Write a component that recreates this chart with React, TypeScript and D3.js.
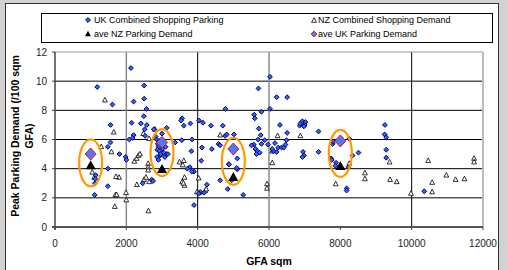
import React from 'react';
import * as d3 from 'd3';

// UK Combined Shopping Parking (GFA sqm, spaces / 100 sqm)
const ukX = [
  2130, 1185, 1611, 2500, 2204, 2500, 2565, 2491, 1556, 2148, 2407, 2574, 2769, 2204, 2176, 2083, 2528,
  1556, 1482, 1806, 1982, 2000, 1482, 1482, 1111, 1141, 1130, 1120, 2458, 2710, 2750, 2515, 3132,
  2820, 2850, 2880, 2900, 2870, 2930, 2950, 2980, 3020, 3050, 3080, 3100, 3130, 2860, 2900, 3000, 2960, 2920,
  4778, 3565, 3537, 3611, 3796, 4037, 4148, 4370, 4704, 3370, 3556, 3843, 4120, 4398, 3824, 4102, 3898,
  4259, 4074, 4028, 3898, 4583, 4630, 4768, 4815, 5019, 5111, 4870, 4630, 4843, 5111, 5278, 3167, 3778,
  5704, 6028, 6028, 5787, 5583, 5602, 5713, 5769, 5695, 5574, 5509, 5620, 5676, 5741, 5648, 5880, 5787,
  5972, 4880, 5094, 4954, 3711, 3833, 4178,
  6213, 6509, 6306, 6509, 6167, 6213, 6259, 6352, 6417, 6463, 6491, 6120, 6090, 6860, 6880, 6935, 7020,
  7000, 6980, 7389, 7389, 6954, 6981, 6935, 7787, 7800, 7741, 7760, 7880, 7861, 8250, 8231, 8343, 8509,
  8176, 8176, 9250, 9241, 9287, 9287, 9287, 10352,
];
const ukY = [
  10.9, 9.6, 8.4, 9.7, 8.6, 8.8, 8.1, 7.6, 7.0, 7.15, 7.1, 7.0, 6.7, 6.3, 6.1, 6.0, 6.25,
  5.8, 5.5, 5.0, 4.8, 4.6, 4.0, 2.8, 2.2, 3.55, 3.3, 3.0, 3.0, 3.25, 3.15, 6.7, 6.8,
  6.2, 6.0, 5.7, 5.5, 5.3, 5.2, 4.9, 5.6, 5.4, 5.1, 4.8, 5.5, 5.0, 4.8, 4.6, 6.4, 5.0, 5.9,
  8.1, 7.45, 7.3, 6.95, 7.1, 7.3, 7.15, 6.95, 6.95, 5.8, 5.95, 6.0, 5.45, 5.35, 5.2, 4.55, 3.8,
  2.9, 2.4, 2.3, 1.5, 5.7, 5.6, 6.25, 6.35, 6.35, 4.7, 4.3, 3.2, 2.6, 3.95, 2.2, 5.0, 4.1,
  9.5, 10.3, 8.1, 7.9, 7.7, 7.45, 6.75, 6.3, 6.0, 5.65, 5.6, 5.35, 5.2, 5.1, 5.0, 5.95, 5.7,
  5.65, 4.3, 4.05, 3.2, 4.0, 3.8, 2.35,
  8.9, 8.9, 7.0, 6.45, 5.75, 5.15, 5.45, 5.45, 5.45, 5.65, 5.95, 5.2, 5.35, 6.95, 7.1, 7.25, 7.2,
  7.0, 6.9, 6.55, 5.15, 5.15, 4.9, 4.8, 5.7, 5.85, 4.7, 4.6, 4.4, 4.2, 6.05, 4.1, 4.9, 5.1,
  2.65, 2.5, 7.0, 6.35, 6.15, 5.3, 4.75, 2.45,
];

// NZ Combined Shopping Demand
const nzX = [
  1398, 1648, 1583, 1296, 1796, 1695, 1676, 1991, 2000, 2620, 1046, 1100, 2224, 2290, 2336, 2380,
  2611, 2611, 2611, 2296, 2495, 2550, 2640, 2639, 2476, 2804, 1710, 1730, 3611, 3491, 3630, 3565,
  3630, 4028, 3981, 4213, 4630, 4047, 4240, 3581, 3600, 6093, 6093, 5944, 5944, 6241, 6880, 7871,
  8690, 8690, 8250, 9380, 9394, 9581, 9981, 10463, 10574, 10574, 10972, 11231, 11481, 11750, 11750,
];
const nzY = [
  8.7, 6.5, 5.15, 5.5, 3.4, 2.2, 1.4, 2.35, 1.85, 1.1, 3.75, 3.4, 4.5, 4.7, 4.9, 5.0,
  4.35, 4.1, 3.9, 2.9, 3.25, 3.4, 3.1, 6.05, 6.4, 6.7, 3.45, 2.2, 4.55, 4.45, 3.4, 3.1,
  2.85, 3.35, 2.4, 2.5, 6.3, 2.35, 2.6, 4.25, 3.0, 5.2, 4.4, 2.95, 2.65, 6.25, 6.25, 2.95,
  3.7, 3.3, 4.35, 4.45, 3.25, 3.1, 2.3, 4.55, 3.05, 2.4, 3.55, 3.25, 3.3, 4.7, 4.45,
];

// averages per size band
const aveX = [1000, 3000, 5000, 8000];
const aveUK = [5.0, 5.8, 5.35, 5.9];
const aveNZ = [4.2, 3.95, 3.4, 4.15];
const ringY = [4.4, 5.1, 4.5, 5.05];

const xTicks = [0, 2000, 4000, 6000, 8000, 10000, 12000];
const yTicks = [0, 2, 4, 6, 8, 10, 12];

const FONT = 'Arial, "Liberation Sans", sans-serif';

const diamond = (cx: number, cy: number, rx: number, ry: number) =>
  `M${cx},${cy - ry}L${cx + rx},${cy}L${cx},${cy + ry}L${cx - rx},${cy}Z`;
const triangle = (cx: number, cy: number, hw: number, h: number) =>
  `M${cx},${cy - h * 0.6}L${cx + hw},${cy + h * 0.4}L${cx - hw},${cy + h * 0.4}Z`;

const App = () => {
  const width = 507;
  const height = 270;
  const left = 55, right = 483, top = 52, bottom = 227;

  const x = d3.scaleLinear().domain([0, 12000]).range([left, right]);
  const y = d3.scaleLinear().domain([0, 12]).range([bottom, top]);

  const softLine = (t: number) => t === 2000 || t === 6000;

  return (
    <svg width={width} height={height} style={{ position: 'absolute', left: 0, top: 0 }} fontFamily={FONT}>
      <rect x={0} y={0} width={width} height={height} fill="#d2d2d2" />
      <rect x={5.5} y={3.5} width={493} height={280} fill="#fff" stroke="#333" strokeWidth={1} />

      {/* legend */}
      <rect x={41.5} y={13.5} width={451} height={29} fill="#fff" stroke="#000" strokeWidth={1} />
      <path d={diamond(88, 20, 2.4, 2.4)} fill="#3366ff" stroke="#000066" strokeWidth={1} />
      <text x={94} y={23} fontSize={9}>UK Combined Shopping Parking</text>
      <path d={triangle(314, 20.5, 2.4, 4.6)} fill="#fff" stroke="#000" strokeWidth={0.8} />
      <text x={318} y={23} fontSize={9}>NZ Combined Shopping Demand</text>
      <path d={triangle(88, 34, 3, 5.5)} fill="#000" />
      <text x={94} y={37} fontSize={9}>ave NZ Parking Demand</text>
      <path d={diamond(314, 34, 3, 3)} fill="#4a7bff" stroke="#ff0000" strokeWidth={0.8} />
      <text x={318} y={37} fontSize={9}>ave UK Parking Demand</text>

      {/* grid */}
      {yTicks.filter(t => t > 0 && t < 12).map(t => (
        <line key={'h' + t} x1={left} x2={right} y1={y(t)} y2={y(t)} stroke="#000" strokeWidth={1} />
      ))}
      {xTicks.filter(t => t > 0 && t < 12000 && t !== 8000).map(t => (
        <line key={'v' + t} x1={x(t)} x2={x(t)} y1={top} y2={bottom}
          stroke={softLine(t) ? '#8a8a8a' : '#000'} strokeWidth={softLine(t) ? 1.5 : 1} />
      ))}
      <line x1={left} x2={right} y1={top} y2={top} stroke="#9a9a9a" strokeWidth={1.2} />
      <line x1={right} x2={right} y1={top} y2={bottom} stroke="#bdbdbd" strokeWidth={2} />
      <line x1={left} x2={left} y1={top} y2={bottom + 3} stroke="#444" strokeWidth={1.5} />
      <line x1={left - 3} x2={right} y1={bottom} y2={bottom} stroke="#555" strokeWidth={2} />

      {/* ticks */}
      {xTicks.map(t => (
        <g key={'xt' + t}>
          <line x1={x(t)} x2={x(t)} y1={bottom} y2={bottom + 3} stroke="#444" />
          <text x={x(t)} y={bottom + 20} fontSize={10} textAnchor="middle" fill="#222">{t}</text>
        </g>
      ))}
      {yTicks.map(t => (
        <g key={'yt' + t}>
          <line x1={left - 3} x2={left} y1={y(t)} y2={y(t)} stroke="#444" />
          <text x={left - 8} y={y(t) + 3.5} fontSize={10} textAnchor="end" fill="#222">{t}</text>
        </g>
      ))}

      {/* axis titles */}
      <text x={269} y={265} fontSize={10.5} fontWeight="bold" textAnchor="middle">GFA sqm</text>
      <g transform="translate(19,136) rotate(-90)">
        <text x={0} y={0} fontSize={10.5} fontWeight="bold" textAnchor="middle">Peak Parking Demand (/100 sqm</text>
        <text x={0} y={14} fontSize={10.5} fontWeight="bold" textAnchor="middle">GFA)</text>
      </g>

      {/* NZ points */}
      {nzX.map((v, i) => (
        <path key={'nz' + i} d={triangle(x(v), y(nzY[i]), 2.4, 4.6)} fill="#fff" stroke="#000" strokeWidth={0.8} />
      ))}
      {/* UK points */}
      {ukX.map((v, i) => (
        <path key={'uk' + i} d={diamond(x(v), y(ukY[i]), 2.4, 2.4)} fill="#3366ff" stroke="#000066" strokeWidth={1} />
      ))}

      {/* highlight rings */}
      {aveX.map((v, i) => (
        <ellipse key={'r' + i} cx={x(v)} cy={y(ringY[i])} rx={11.5} ry={23.5} fill="none" stroke="#ff9900" strokeWidth={2.2} />
      ))}
      {aveX.map((v, i) => (
        <path key={'an' + i} d={triangle(x(v), y(aveNZ[i]), 5, 9)} fill="#000" />
      ))}
      {aveX.map((v, i) => (
        <path key={'au' + i} d={diamond(x(v), y(aveUK[i]), 5.5, 6)} fill="#4a7bff" stroke="#ff0000" strokeWidth={1} />
      ))}
    </svg>
  );
};

export default App;
